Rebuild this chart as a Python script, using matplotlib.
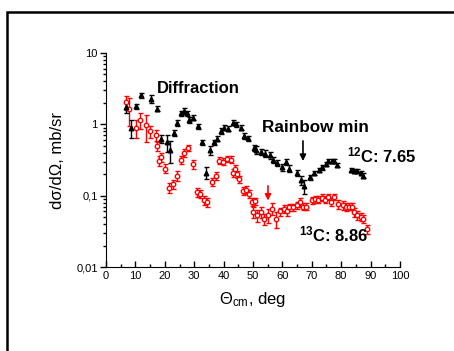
import matplotlib
matplotlib.use("Agg")
import matplotlib.pyplot as plt
from matplotlib.patches import Rectangle
from matplotlib.ticker import FixedLocator, FuncFormatter, LogLocator, NullFormatter

plt.rcParams['font.family'] = ['Liberation Sans', 'DejaVu Sans']
plt.rcParams['mathtext.fontset'] = 'custom'
plt.rcParams['mathtext.rm'] = 'Liberation Sans'
plt.rcParams['mathtext.it'] = 'Liberation Sans:italic'
plt.rcParams['mathtext.bf'] = 'Liberation Sans:bold'

# 12C elastic cross sections (triangles)
theta12 = [6.8, 8.4, 10.2, 11.8, 15.2, 17.2, 18.6, 20.6, 21.8, 23.1, 24.0, 25.4, 26.5, 27.4, 28.3,
           29.7, 31.2, 32.7, 34.0, 35.3, 36.6, 37.9, 39.1, 40.2, 41.4, 43.1, 44.2, 45.8, 47.1, 48.4,
           50.2, 51.0, 52.6, 54.1, 55.8, 56.7, 58.3, 59.7, 61.2, 62.4, 65.1, 66.3, 67.3, 69.4, 70.9,
           72.4, 73.6, 74.8, 75.6, 76.8, 77.6, 78.7, 83.2, 84.4, 85.5, 86.6, 87.5]
sigma12 = [1.75, 0.9, 1.8, 2.55, 2.3, 1.66, 0.62, 0.56, 0.44, 0.76, 1.04, 1.44, 1.54, 1.44, 1.16,
           1.24, 0.94, 0.56, 0.21, 0.43, 0.56, 0.63, 0.81, 0.9, 0.87, 1.06, 1.0, 0.9, 0.69, 0.64,
           0.47, 0.44, 0.41, 0.39, 0.37, 0.32, 0.29, 0.25, 0.30, 0.24, 0.21, 0.164, 0.135, 0.18, 0.21,
           0.23, 0.25, 0.28, 0.31, 0.31, 0.31, 0.27, 0.23, 0.225, 0.22, 0.21, 0.19]
err12 = [0.3, 0.25, 0.15, 0.2, 0.3, 0.12, 0.08, 0.15, 0.15, 0.08, 0.1, 0.12, 0.15, 0.12, 0.1,
         0.1, 0.08, 0.05, 0.04, 0.06, 0.05, 0.05, 0.07, 0.07, 0.07, 0.09, 0.08, 0.07, 0.06, 0.05,
         0.05, 0.05, 0.04, 0.04, 0.04, 0.03, 0.03, 0.025, 0.03, 0.025, 0.02, 0.025, 0.03, 0.015, 0.015,
         0.015, 0.02, 0.02, 0.02, 0.02, 0.02, 0.02, 0.015, 0.015, 0.015, 0.015, 0.015]

# 13C* elastic cross sections (open circles)
theta13 = [6.8, 7.9, 10.2, 11.6, 13.6, 15.0, 16.9, 17.4, 18.1, 18.6, 20.1, 21.5, 22.7, 24.0, 25.4,
           26.5, 27.9, 29.5, 30.8, 32.0, 33.3, 34.5, 35.9, 37.4, 38.5, 39.9, 41.0, 42.4, 43.3, 43.9,
           44.7, 45.3, 46.5, 47.6, 48.7, 49.5, 50.1, 50.7, 51.2, 52.6, 53.7, 55.2, 56.3, 57.8, 59.3,
           60.5, 61.6, 62.4, 63.7, 65.0, 66.0, 67.1, 68.2, 70.0, 71.1, 72.2, 73.4, 74.5, 75.6, 76.4,
           77.6, 79.0, 80.5, 81.6, 82.8, 83.6, 84.4, 85.5, 86.6, 87.5, 88.9]
sigma13 = [2.05, 1.66, 0.9, 1.16, 0.97, 0.8, 0.7, 0.49, 0.31, 0.35, 0.24, 0.13, 0.144, 0.19, 0.32,
           0.40, 0.47, 0.28, 0.112, 0.107, 0.086, 0.082, 0.155, 0.19, 0.31, 0.30, 0.33, 0.32, 0.21, 0.24,
           0.20, 0.17, 0.116, 0.12, 0.107, 0.082, 0.059, 0.084, 0.053, 0.059, 0.047, 0.053, 0.066, 0.047, 0.06,
           0.065, 0.06, 0.069, 0.069, 0.073, 0.082, 0.07, 0.07, 0.086, 0.09, 0.088, 0.094, 0.088, 0.096, 0.082,
           0.096, 0.076, 0.073, 0.07, 0.07, 0.07, 0.059, 0.053, 0.051, 0.047, 0.034]
err13 = [0.45, 0.7, 0.25, 0.3, 0.4, 0.15, 0.12, 0.07, 0.05, 0.05, 0.035, 0.02, 0.02, 0.03, 0.04,
         0.05, 0.05, 0.04, 0.015, 0.015, 0.012, 0.012, 0.02, 0.025, 0.035, 0.035, 0.035, 0.035, 0.025, 0.03,
         0.025, 0.02, 0.015, 0.015, 0.013, 0.01, 0.01, 0.01, 0.01, 0.01, 0.008, 0.012, 0.012, 0.012, 0.008,
         0.008, 0.008, 0.008, 0.008, 0.008, 0.012, 0.008, 0.008, 0.01, 0.01, 0.01, 0.01, 0.01, 0.01, 0.01,
         0.01, 0.012, 0.01, 0.01, 0.008, 0.008, 0.008, 0.008, 0.007, 0.006, 0.005]

xticks = [0, 10, 20, 30, 40, 50, 60, 70, 80, 90, 100]
yticks = [0.01, 0.1, 1, 10]
ytick_labels = ['0,01', '0,1', '1', '10']

fig = plt.figure(figsize=(4.54, 3.51), dpi=100)
ax = fig.add_axes([0.2335, 0.2393, 0.6475, 0.6097])

ax.errorbar(theta13, sigma13, yerr=err13, fmt='o', color='red', mfc='white', mec='red',
            ms=3.2, mew=1.0, elinewidth=1.0, capsize=1.8, capthick=1.0)
ax.errorbar(theta12, sigma12, yerr=err12, fmt='^', color='black', mfc='black', mec='black',
            ms=3.3, elinewidth=1.0, capsize=1.8, capthick=1.0)

ax.set_yscale('log')
ax.set_xlim(0, 100)
ax.set_ylim(0.01, 10)

ax.xaxis.set_major_locator(FixedLocator(xticks))
ax.xaxis.set_minor_locator(FixedLocator([5, 15, 25, 35, 45, 55, 65, 75, 85, 95]))
ax.yaxis.set_major_locator(FixedLocator(yticks))
ax.yaxis.set_major_formatter(FuncFormatter(lambda v, p: ytick_labels[yticks.index(v)] if v in yticks else ''))
ax.yaxis.set_minor_locator(LogLocator(base=10, subs=range(2, 10)))
ax.yaxis.set_minor_formatter(NullFormatter())

ax.spines['top'].set_visible(False)
ax.spines['right'].set_visible(False)
ax.tick_params(axis='x', which='major', direction='in', length=4, width=1, labelsize=8, pad=3)
ax.tick_params(axis='x', which='minor', direction='in', length=2.5, width=1)
ax.tick_params(axis='y', which='major', direction='out', length=4, width=1, labelsize=8, pad=2)
ax.tick_params(axis='y', which='minor', direction='out', length=2.5, width=1)

ax.set_xlabel(r'Θ$_{\rm cm}$, deg', fontsize=12, labelpad=6)
ax.set_ylabel('dσ/dΩ, mb/sr', fontsize=12, labelpad=8)

# annotations
ax.text(17.3, 3.2, 'Diffraction', fontsize=12, fontweight='bold', va='center', ha='left')
ax.text(71.4, 0.91, 'Rainbow min', fontsize=12.3, fontweight='bold', va='center', ha='center')
ax.text(82.0, 0.37, r'$^{\mathbf{12}}$C: 7.65', fontsize=12, fontweight='bold', va='center', ha='left')
ax.text(65.5, 0.029, r'$^{\mathbf{13}}$C: 8.86', fontsize=12, fontweight='bold', va='center', ha='left')

ax.annotate('', xy=(67.0, 0.28), xytext=(67.0, 0.64),
            arrowprops=dict(arrowstyle='-|>', color='black', lw=1.2, mutation_scale=9))
ax.annotate('', xy=(55.1, 0.078), xytext=(55.1, 0.15),
            arrowprops=dict(arrowstyle='-|>', color='red', lw=1.2, mutation_scale=9))

# outer frame
fig.patches.append(Rectangle((7 / 454, -0.2), 1.2, 0.2 + (351 - 12) / 351,
                             transform=fig.transFigure, fill=False, edgecolor='black', lw=1.8))

fig.savefig('out.png', dpi=100)
